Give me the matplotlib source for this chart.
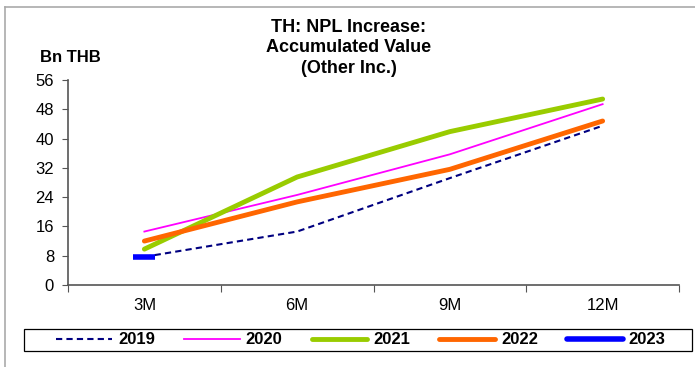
import matplotlib
matplotlib.use("Agg")
import matplotlib.pyplot as plt
from matplotlib.lines import Line2D
from matplotlib.patches import Rectangle

plt.rcParams['font.family'] = ['Liberation Sans', 'DejaVu Sans']

# data (Bn THB, accumulated)
periods = ["3M", "6M", "9M", "12M"]
y2019 = [7.7, 14.6, 29.2, 43.5]
y2020 = [14.6, 24.6, 35.7, 49.4]
y2021 = [9.8, 29.5, 41.9, 50.8]
y2022 = [12.0, 22.7, 31.6, 44.8]
y2023 = [7.6]
yticks = [0, 8, 16, 24, 32, 40, 48, 56]

W, H = 695, 367
fig = plt.figure(figsize=(W / 100, H / 100), dpi=100)
ax = fig.add_axes([68 / W, 1 - 285 / H, (679 - 68) / W, (285 - 80) / H])

x = list(range(len(periods)))
ax.plot(x, y2019, color="#000080", lw=1.5, ls=(0, (3, 2)), label="2019")
ax.plot(x, y2020, color="#FF00FF", lw=1.3, label="2020")
ax.plot(x, y2021, color="#99CC00", lw=3.5, solid_capstyle="round", label="2021")
ax.plot(x, y2022, color="#FF6600", lw=3.5, solid_capstyle="round", label="2022")
ax.plot(x[:len(y2023)], y2023, color="#0000FF", lw=3.5, marker="_", ms=16, mew=4,
        ls="none")

ax.set_xlim(-0.5, 3.5)
ax.set_ylim(0, 56)
ax.set_yticks(yticks)
ax.set_xticks([-0.5, 0.5, 1.5, 2.5, 3.5])
ax.set_xticklabels([])
ax.set_xticks(x, minor=True)
ax.set_xticklabels(periods, minor=True)
ax.tick_params(axis="x", which="minor", length=0, pad=9, labelsize=12)
ax.tick_params(axis="x", which="major", length=5, color="#555555")
ax.tick_params(axis="y", length=4, color="#555555", labelsize=12, pad=6)
for s in ["top", "right"]:
    ax.spines[s].set_visible(False)
for s in ["left", "bottom"]:
    ax.spines[s].set_color("#555555")
    ax.spines[s].set_linewidth(1.2)

fig.text(349 / W, 1 - 48 / H, "TH: NPL Increase:\nAccumulated Value\n(Other Inc.)",
         ha="center", va="center", fontsize=13, fontweight="bold", linespacing=1.3)
fig.text(70 / W, 1 - 58 / H, "Bn THB", ha="center", va="center",
         fontsize=12, fontweight="bold")

handles = [
    Line2D([], [], color="#000080", lw=1.5, ls=(0, (3, 2))),
    Line2D([], [], color="#FF00FF", lw=1.3),
    Line2D([], [], color="#99CC00", lw=3.5, solid_capstyle="round"),
    Line2D([], [], color="#FF6600", lw=3.5, solid_capstyle="round"),
    Line2D([], [], color="#0000FF", lw=4, solid_capstyle="round"),
]
fig.legend(handles, ["2019", "2020", "2021", "2022", "2023"], ncol=5,
           loc="center", bbox_to_anchor=(361 / W, 1 - 340 / H),
           prop={"weight": "bold", "size": 12}, handlelength=3.35,
           handletextpad=0.36, columnspacing=1.74, frameon=False,
           borderpad=0, borderaxespad=0)
# legend box
fig.add_artist(Rectangle((24 / W, 1 - 351 / H), 668 / W, 22 / H, fill=False,
                         edgecolor="black", lw=0.9))

# outer chart border
fig.add_artist(Line2D([5 / W, 5 / W], [0, 1 - 7 / H], color="#aaaaaa", lw=1.2))
fig.add_artist(Line2D([5 / W, 1], [1 - 7 / H, 1 - 7 / H], color="#aaaaaa", lw=1.2))

fig.savefig("out.png", dpi=100)
